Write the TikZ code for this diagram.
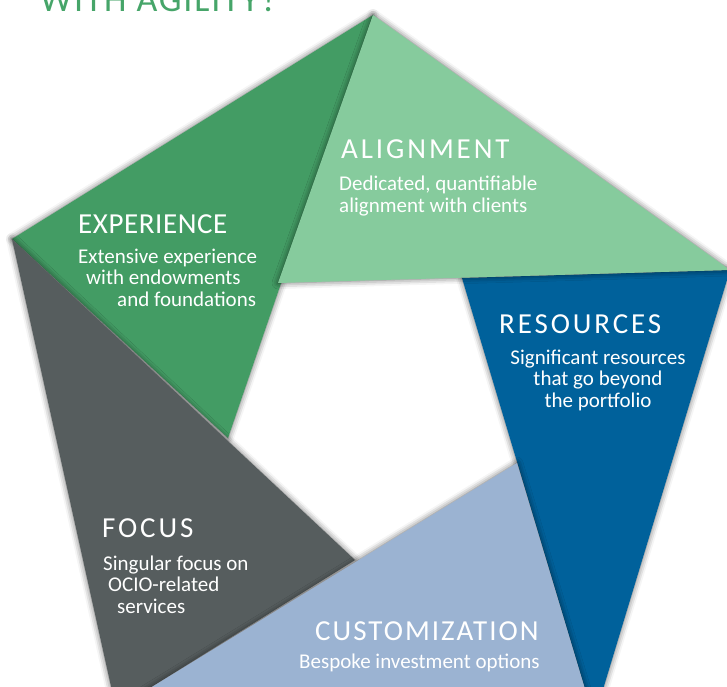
\documentclass[tikz,border=0pt]{standalone}
\usepackage{fontspec}
\setmainfont{Carlito}
\newfontfamily\headfont[LetterSpace=10]{Carlito}
\newfontfamily\headfontmid[LetterSpace=7]{Carlito}
\newfontfamily\headfonttight[LetterSpace=2]{Carlito}
\newfontfamily\taglinefont[LetterSpace=5]{Carlito}
\usepackage{tikz}
\usetikzlibrary{shadows.blur}

\definecolor{expgreen}{RGB}{67,156,100}
\definecolor{aligreen}{RGB}{134,203,157}
\definecolor{resblue}{RGB}{0,97,155}
\definecolor{cusblue}{RGB}{155,179,210}
\definecolor{focgrey}{RGB}{86,93,94}
\definecolor{taggreen}{RGB}{70,165,105}

\begin{document}
\begin{tikzpicture}[x=1bp,y=-1bp,
  facet/.style={blur shadow={shadow xshift=0bp,shadow yshift=0bp,shadow blur radius=6bp,shadow opacity=60}},
  head/.style={anchor=base west,inner sep=0pt,text=white,font=\headfont\fontsize{29bp}{30bp}\selectfont},
  blurb/.style={anchor=base west,inner sep=0pt,text=white,align=left,font=\fontsize{21bp}{21.5bp}\selectfont}]

\useasboundingbox (0,0) rectangle (727,687);
\clip (0,0) rectangle (727,687);

% corners of the pentagon and tips of the blades
\coordinate (apex) at (373,15);
\coordinate (west) at (12,239);
\coordinate (east) at (730,270);
\coordinate (southeast) at (594,719);
\coordinate (southwest) at (116,709);
\coordinate (expTip) at (228,438);
\coordinate (aliTip) at (278,283);
\coordinate (resTip) at (462,278);
\coordinate (cusTip) at (517,463);
\coordinate (focTip) at (355,560);

\node (tagline) at (40,12)[anchor=base west,inner sep=0pt,text=taggreen,font=\taglinefont\fontsize{36bp}{38bp}\selectfont] {WITH AGILITY?};

% blades
\fill[expgreen,facet] (apex) -- (west) -- (expTip) -- cycle;
\fill[resblue,facet] (resTip) -- (east) -- (southeast) -- cycle;
\fill[focgrey,facet] (west) -- (focTip) -- (southwest) -- cycle;
\fill[cusblue,facet] (cusTip) -- (southwest) -- (southeast) -- cycle;
\fill[aligreen,facet] (apex) -- (east) -- (aliTip) -- cycle;

% texts (multi-line blurbs sit on their last baseline)
\node (expHead) at (78,233)[head,font=\headfonttight\fontsize{29bp}{30bp}\selectfont] {EXPERIENCE};
\node (expText) at (78,306)[blurb] {Extensive experience\\\hspace*{8bp}with endowments\\\hspace*{39bp}and foundations};

\node (aliHead) at (341,158)[head] {ALIGNMENT};
\node (aliText) at (339,212)[blurb] {Dedicated, quantifiable\\alignment with clients};

\node (resHead) at (499,333)[head] {RESOURCES};
\node (resText) at (598,407)[blurb,anchor=base,align=center] {Significant resources\\that go beyond\\the portfolio};

\node (focHead) at (102,537)[head] {FOCUS};
\node (focText) at (103,613)[blurb] {Singular focus on\\\hspace*{5bp}OCIO-related\\\hspace*{14bp}services};

\node (cusHead) at (315,640)[head,font=\headfontmid\fontsize{29bp}{30bp}\selectfont] {CUSTOMIZATION};
\node (cusText) at (299,668)[blurb] {Bespoke investment options};
\end{tikzpicture}
\end{document}
